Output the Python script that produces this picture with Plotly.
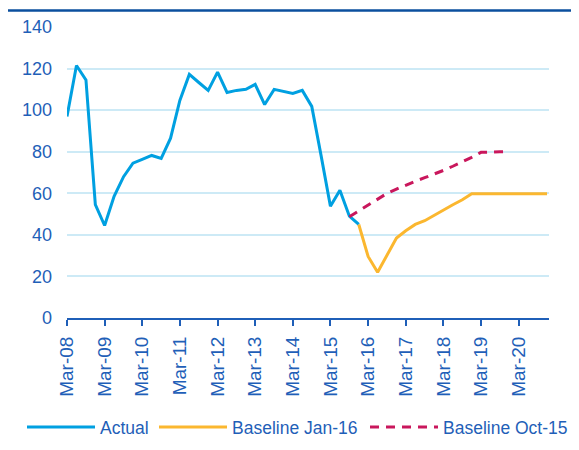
from plotly import graph_objects as go
import pandas

# quarterly series, Mar-08 .. Dec-20
quarters = pandas.date_range("2008-03-01", periods=52, freq="3MS")

actual = [97, 121.5, 114.5, 54.5, 44.5, 58.5, 68, 74.5,
          76.3, 78.2, 76.8, 86.5, 104.7, 117.2, 113.3, 109.5,
          118.3, 108.5, 109.5, 110, 112.4, 102.7, 110, 109.1,
          108, 109.5, 101.8, 78, 53.8, 61.5, 49, 45]

# Baseline Jan-16 starts at Dec-15
baseline_jan16 = [45, 29.6, 22, 30.5, 38.5, 42, 45, 46.8,
                  49.4, 52.2, 54.5, 56.9, 59.8, 59.8, 59.8, 59.8,
                  59.8, 59.8, 59.8, 59.8, 59.8]

# Baseline Oct-15 starts at Sep-15
baseline_oct15 = [48.7, 51.5, 54.5, 57.5, 60, 62, 64, 65.8,
                  67.5, 69.2, 71, 73, 75, 77.3, 79.7, 80,
                  80, 80]

tick_years = list(range(2008, 2021))

BLUE_TEXT = "#1f5fb8"
FONT = "Liberation Sans, Arial, sans-serif"

fig = go.Figure()
fig.add_trace(go.Scatter(
    x=quarters[:len(actual)], y=actual, name="Actual",
    mode="lines", line=dict(color="#00a0e1", width=3),
    legend="legend"
))
fig.add_trace(go.Scatter(
    x=quarters[31:31 + len(baseline_jan16)], y=baseline_jan16,
    name="Baseline Jan-16",
    mode="lines", line=dict(color="#fbb72f", width=3),
    legend="legend2"
))
fig.add_trace(go.Scatter(
    x=quarters[30:30 + len(baseline_oct15)], y=baseline_oct15,
    name="Baseline Oct-15",
    mode="lines", line=dict(color="#c9175c", width=3, dash="9px,7px"),
    legend="legend3"
))

# the page body adds an 8px offset, so the figure is laid out 8px up/left
L, R, T, B = 59, 38, 19, 140
W, H = 579, 450
pw, ph = W - L - R, H - T - B


def legend_at(x_px):
    # one legend box per series so each entry sits where the reference has it
    return dict(
        orientation="h", xref="container", yref="container",
        x=x_px / W, xanchor="left",
        y=(H - 419) / H, yanchor="middle",
        font=dict(size=17.5, color=BLUE_TEXT), itemwidth=68,
        bgcolor="rgba(0,0,0,0)"
    )


fig.update_layout(
    width=W, height=H,
    margin=dict(l=L, r=R, t=T, b=B, autoexpand=False),
    plot_bgcolor="white", paper_bgcolor="white",
    font=dict(family=FONT, size=18, color=BLUE_TEXT),
    showlegend=True,
    legend=legend_at(14),
    legend2=legend_at(146),
    legend3=legend_at(357),
    xaxis=dict(
        type="date", automargin=False,
        range=[quarters[0], pandas.Timestamp("2020-12-20")],
        tickvals=[pandas.Timestamp(f"{y}-03-01") for y in tick_years],
        tickformat="%b-%y", tickangle=-90,
        showgrid=False, showline=True, linecolor=BLUE_TEXT, linewidth=2,
        ticks="outside", ticklen=6, tickwidth=2, tickcolor=BLUE_TEXT,
        ticklabelstandoff=3,
        tickfont=dict(size=19, color=BLUE_TEXT), zeroline=False
    ),
    yaxis=dict(
        range=[0, 140], tickvals=list(range(0, 141, 20)), automargin=False,
        showgrid=True, gridcolor="#cdeaf6", gridwidth=1.5,
        zeroline=False, showline=False, ticks="",
        ticklabelstandoff=14,
        tickfont=dict(size=18, color=BLUE_TEXT)
    ),
    shapes=[dict(
        type="line", xref="paper", yref="paper",
        x0=-L / pw, x1=(W - L) / pw,
        y0=(H - B - 2.5) / ph, y1=(H - B - 2.5) / ph,
        line=dict(color="#0b4f9e", width=2.5)
    )]
)

fig.write_html("out.html")
